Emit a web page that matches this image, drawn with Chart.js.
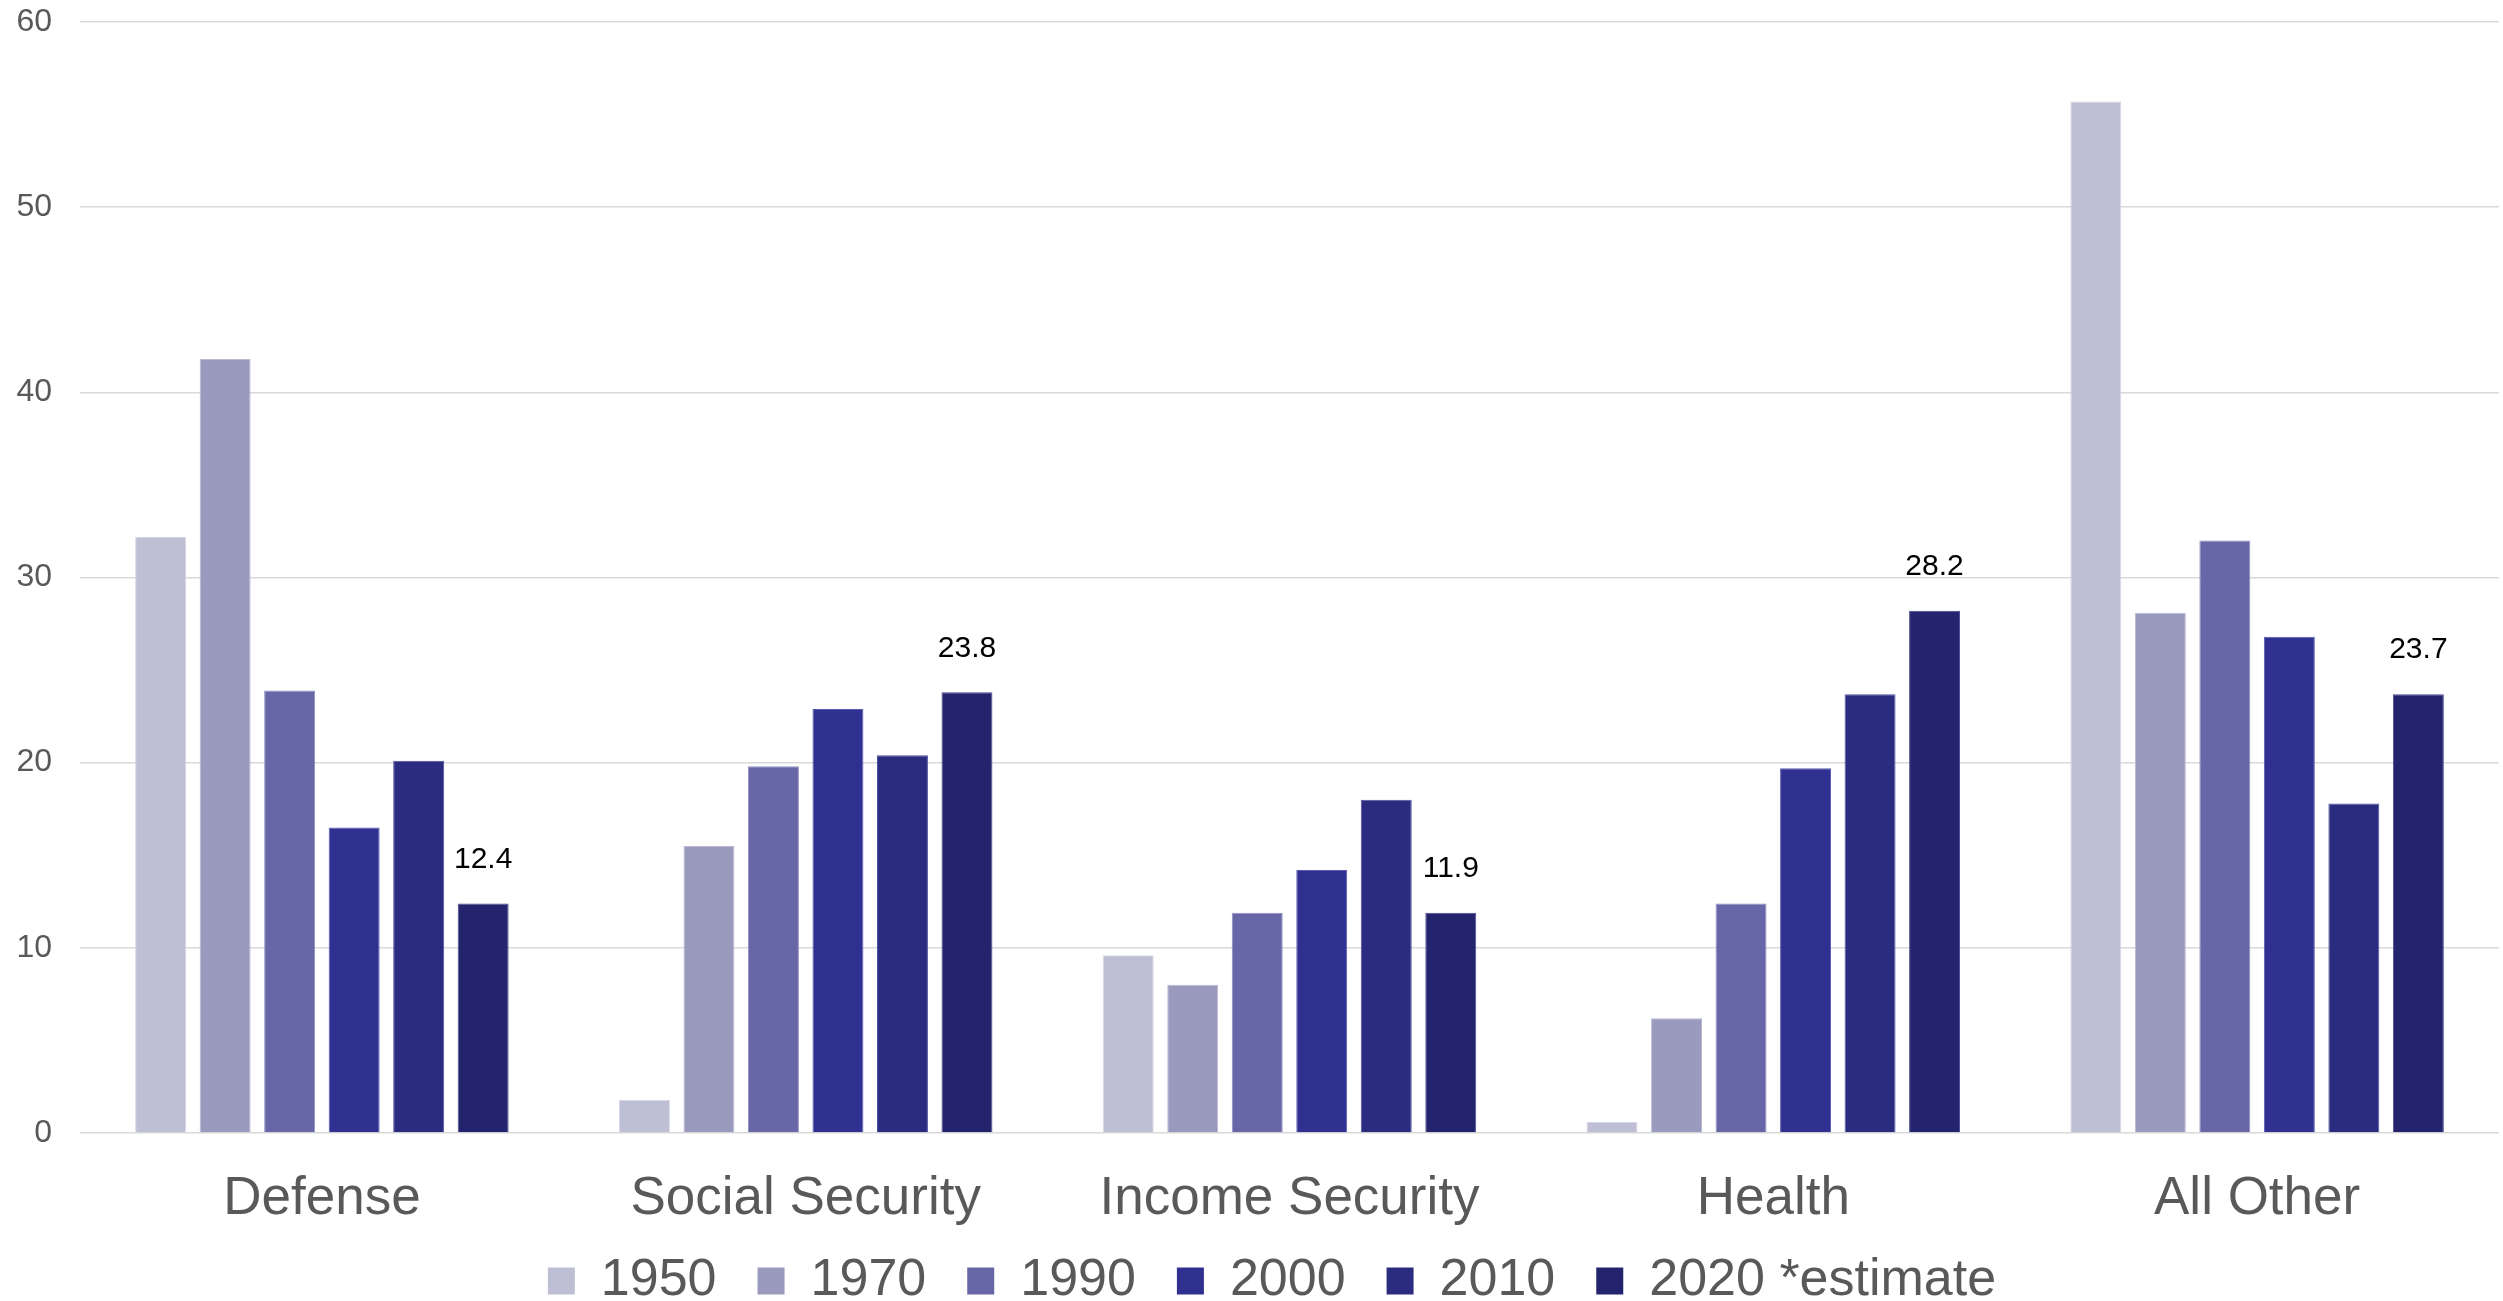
<!DOCTYPE html>
<html>
<head>
<meta charset="utf-8">
<script src="https://cdn.jsdelivr.net/npm/chart.js@4/dist/chart.umd.min.js"></script>
<style>
  html, body { margin: 0; padding: 0; background: #ffffff; }
  #wrap { width: 2503px; height: 1301px; position: relative; }
</style>
</head>
<body>
<div id="wrap"><canvas id="c" width="2503" height="1301"></canvas></div>
<script>
const categories = ['Defense', 'Social Security', 'Income Security', 'Health', 'All Other'];
const seriesLabels = ['1950', '1970', '1990', '2000', '2010', '2020 *estimate'];
const s1950 = [32.2, 1.8, 9.6, 0.6, 55.7];
const s1970 = [41.8, 15.5, 8.0, 6.2, 28.1];
const s1990 = [23.9, 19.8, 11.9, 12.4, 32.0];
const s2000 = [16.5, 22.9, 14.2, 19.7, 26.8];
const s2010 = [20.1, 20.4, 18.0, 23.7, 17.8];
const s2020 = [12.4, 23.8, 11.9, 28.2, 23.7];
const yMin = 0, yMax = 60, yStep = 10;

const colors = ['#BEBED4', '#9A9ABE', '#6767A7', '#303091', '#2B2B80', '#24236D'];
const edgeColors = ['#D6D6E6', '#B8B8D4', '#8E8EC4', '#5A5AB0', '#5050A0', '#4A4A90'];
const allSeries = [s1950, s1970, s1990, s2000, s2010, s2020];
const FONT = '"Liberation Sans", Arial, Helvetica, sans-serif';

const labelPlugin = {
  id: 'lastSeriesLabels',
  afterLayout(chart) {
    // widen the label clipping boxes so tick labels are not cut off
    chart.scales.y.left = 0;
    chart.scales.x.bottom = chart.height;
  },
  afterDatasetsDraw(chart) {
    const idx = allSeries.length - 1;
    const meta = chart.getDatasetMeta(idx);
    const ctx = chart.ctx;
    ctx.save();
    ctx.font = '30px ' + FONT;
    ctx.fillStyle = '#000000';
    ctx.textAlign = 'center';
    ctx.textBaseline = 'middle';
    meta.data.forEach((bar, i) => {
      ctx.fillText(allSeries[idx][i].toFixed(1), bar.x, bar.y - 44);
    });
    ctx.restore();
  }
};

new Chart(document.getElementById('c'), {
  type: 'bar',
  data: {
    labels: categories,
    datasets: allSeries.map((d, i) => ({
      label: seriesLabels[i],
      data: d,
      backgroundColor: colors[i],
      borderColor: edgeColors[i],
      borderWidth: 1,
      categoryPercentage: 0.8,
      barPercentage: 0.79
    }))
  },
  options: {
    responsive: false,
    animation: false,
    layout: { padding: { left: 45, right: 4, top: 22, bottom: 0 } },
    plugins: {
      tooltip: { enabled: false },
      legend: {
        position: 'bottom',
        maxHeight: 87,
        labels: {
          boxWidth: 27,
          boxHeight: 27,
          padding: 41,
          color: '#595959',
          font: { family: FONT, size: 52 },
          generateLabels(chart) {
            return Chart.defaults.plugins.legend.labels.generateLabels(chart).map(item => {
              item.lineWidth = 0;
              item.fillStyle = colors[item.datasetIndex];
              return item;
            });
          }
        }
      }
    },
    scales: {
      x: {
        grid: { display: false, drawTicks: false },
        border: { display: false },
        ticks: { color: '#595959', font: { family: FONT, size: 53 }, padding: 35 },
        afterFit(scale) { scale.height = 81; scale.paddingLeft = 0; scale.paddingRight = 0; }
      },
      y: {
        min: yMin,
        max: yMax,
        grid: { color: '#D9D9D9', lineWidth: 1.6, drawTicks: false },
        border: { display: false },
        ticks: { stepSize: yStep, color: '#595959', font: { family: FONT, size: 32 }, padding: 28 },
        afterFit(scale) { scale.width = 35; scale.paddingTop = 0; scale.paddingBottom = 0; }
      }
    }
  },
  plugins: [labelPlugin]
});
</script>
</body>
</html>
